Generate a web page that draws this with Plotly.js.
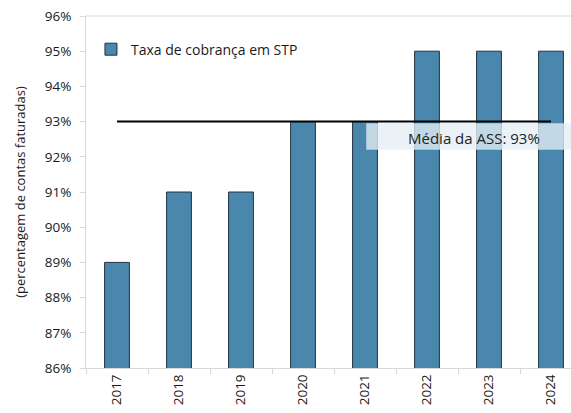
<!DOCTYPE html>
<html>
<head>
<meta charset="utf-8">
<script src="https://cdn.plot.ly/plotly-3.0.1.min.js"></script>
<style>
html,body{margin:0;padding:0;overflow:hidden;background:#fff;width:571px;height:413px;}
#chart{width:600px;height:413px;}
</style>
</head>
<body>
<div id="chart"></div>
<script>
const years = ['2017','2018','2019','2020','2021','2022','2023','2024'];
const taxaCobranca = [89, 91, 91, 93, 93, 95, 95, 95];
const mediaASS = 93;
const seriesName = 'Taxa de cobrança em STP';
const mediaLabel = 'Média da ASS: 93%';
const yTitle = '(percentagem de contas faturadas)';

const font = "'Open Sans', 'Noto Sans', sans-serif";

const traces = [
  {
    type: 'bar',
    x: years,
    y: taxaCobranca,
    name: seriesName,
    marker: {color: '#4a87ad', line: {color: '#22313d', width: 1}},
    showlegend: true
  },
  {
    type: 'scatter',
    mode: 'lines',
    x: years,
    y: years.map(() => mediaASS),
    line: {color: '#000', width: 2},
    showlegend: false,
    hoverinfo: 'skip'
  }
];

const layout = {
  width: 600,
  height: 413,
  margin: {l: 86, r: 18, t: 16, b: 45},
  paper_bgcolor: '#fff',
  plot_bgcolor: '#fff',
  font: {family: font, size: 13, color: '#1a1a1a'},
  bargap: 0.6,
  showlegend: true,
  legend: {x: 0.01, y: 0.95, xanchor: 'left', yanchor: 'top', bgcolor: 'rgba(0,0,0,0)', font: {size: 14}, itemwidth: 30},
  xaxis: {
    type: 'category',
    range: [-0.5, 7.5],
    tickangle: -90,
    ticks: 'outside',
    tickson: 'boundaries',
    ticklen: 5,
    tickcolor: '#d9d9d9',
    showline: true,
    linecolor: '#d9d9d9',
    showgrid: false,
    tickfont: {size: 13.5}
  },
  yaxis: {
    range: [86, 96],
    dtick: 1,
    ticksuffix: '%',
    ticks: 'outside',
    ticklen: 5,
    tickcolor: '#d9d9d9',
    ticklabelstandoff: 6,
    showline: true,
    linecolor: '#d9d9d9',
    showgrid: false,
    zeroline: false,
    tickfont: {size: 13.5},
    title: {text: yTitle, font: {size: 13}, standoff: 16}
  },
  shapes: [
    {type: 'line', xref: 'paper', yref: 'paper', x0: 0, x1: 1, y0: 1, y1: 1, line: {color: '#d9d9d9', width: 1}},
    {type: 'rect', xref: 'x', yref: 'y', x0: 4.02, x1: 7.8, y0: 92.2, y1: 92.95,
     fillcolor: 'rgba(228,238,245,0.78)', line: {width: 0}, layer: 'above'}
  ],
  annotations: [
    {xref: 'x', yref: 'y', x: 5.75, y: 92.53, text: mediaLabel, showarrow: false,
     font: {size: 15, color: '#222'}}
  ]
};

Plotly.newPlot('chart', traces, layout, {displayModeBar: false, staticPlot: true});
</script>
</body>
</html>
